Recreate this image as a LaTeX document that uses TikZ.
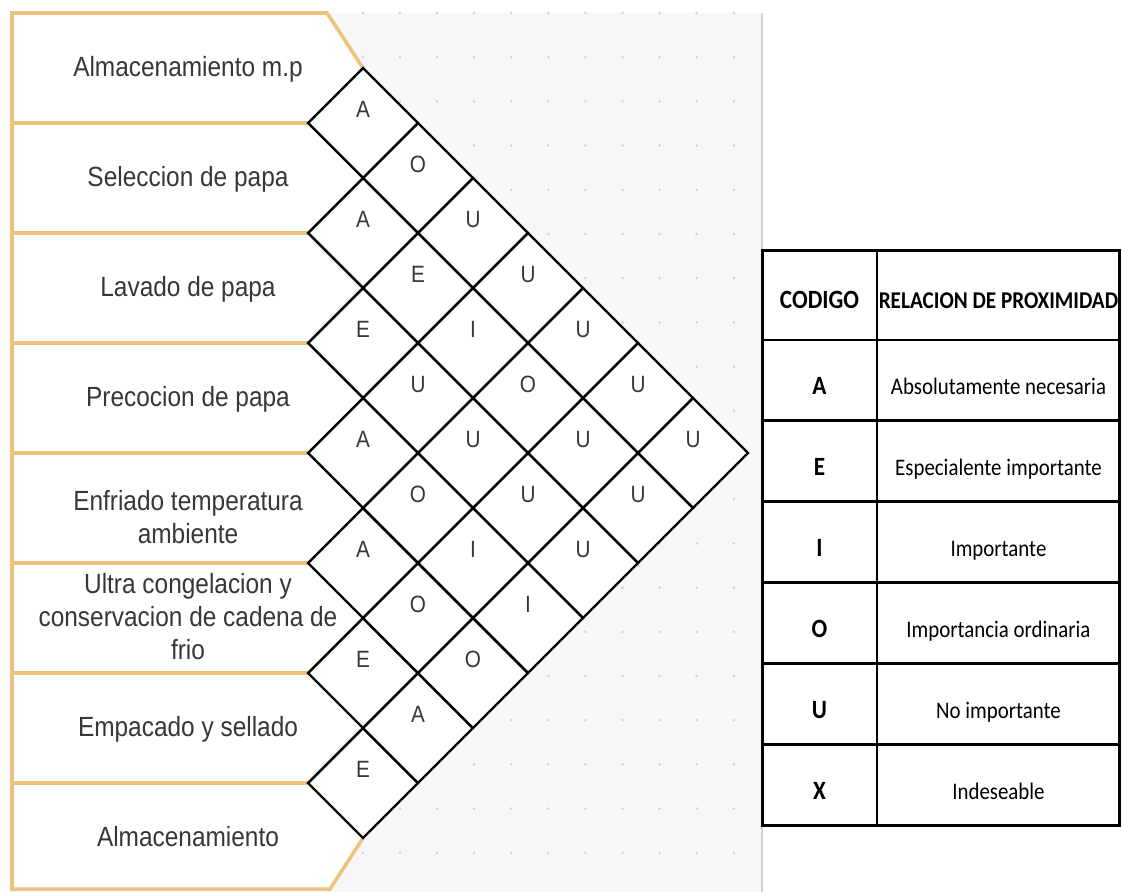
\documentclass[tikz,border=0pt]{standalone}
\usepackage{fontspec}
\setmainfont[FakeStretch=0.88]{Liberation Sans}
\newfontfamily\tablefont[FakeStretch=0.88]{Carlito}
\usepackage{xcolor}
\usetikzlibrary{shapes.geometric, positioning, backgrounds}

\definecolor{panelline}{RGB}{236,194,124}
\definecolor{canvas}{RGB}{247,247,249}
\definecolor{dotgray}{RGB}{212,212,218}
\definecolor{labelgray}{RGB}{55,55,55}

\begin{document}
\begin{tikzpicture}[x=0.02cm, y=-0.02cm]
    \tikzset{
        stage/.style={align=center, text=labelgray, inner sep=0pt, font=\fontsize{15.8}{18.8}\selectfont},
        cell/.style={diamond, draw=black, fill=white, line width=1.4pt, minimum width=2.2cm, minimum height=2.2cm, inner sep=0pt, outer sep=0pt, text=labelgray, font=\fontsize{13.4}{15}\selectfont, text height=9.6pt, text depth=15.8pt},
        panel/.style={draw=panelline, line width=2pt},
        tablecell/.style={rectangle, draw=black, line width=1.7pt, inner sep=0pt, outer sep=0pt, text height=15.5pt, text depth=0pt},
        head/.style={tablecell, minimum height=1.8cm, font=\tablefont\bfseries\fontsize{13.7}{15}\selectfont},
        codecell/.style={tablecell, minimum width=2.3cm, minimum height=1.62cm, font=\tablefont\bfseries\fontsize{15}{17}\selectfont},
        desccell/.style={tablecell, minimum width=4.86cm, minimum height=1.62cm, font=\tablefont\fontsize{13.5}{15}\selectfont}
    }
    \useasboundingbox (0,0) rectangle (1122,892);

    \node (AlmacenMP) [stage] at (188,69) {Almacenamiento m.p};
    \node (Seleccion) [stage] at (188,179) {Seleccion de papa};
    \node (Lavado) [stage] at (188,289) {Lavado de papa};
    \node (Precocion) [stage] at (188,399) {Precocion de papa};
    \node (Enfriado) [stage] at (188,517) {Enfriado temperatura\\ambiente};
    \node (Congelacion) [stage] at (188,617) {Ultra congelacion y\\conservacion de cadena de\\frio};
    \node (Empacado) [stage] at (188,729) {Empacado y sellado};
    \node (Almacen) [stage] at (188,837) {Almacenamiento};

    \node (C01) [cell] at (363,123) {A};
    \node (C12) [cell] at (363,233) {A};
    \node (C23) [cell] at (363,343) {E};
    \node (C34) [cell] at (363,453) {A};
    \node (C45) [cell] at (363,563) {A};
    \node (C56) [cell] at (363,673) {E};
    \node (C67) [cell] at (363,783) {E};

    \node (C02) [cell] at (418,178) {O};
    \node (C13) [cell] at (418,288) {E};
    \node (C24) [cell] at (418,398) {U};
    \node (C35) [cell] at (418,508) {O};
    \node (C46) [cell] at (418,618) {O};
    \node (C57) [cell] at (418,728) {A};

    \node (C03) [cell] at (473,233) {U};
    \node (C14) [cell] at (473,343) {I};
    \node (C25) [cell] at (473,453) {U};
    \node (C36) [cell] at (473,563) {I};
    \node (C47) [cell] at (473,673) {O};

    \node (C04) [cell] at (528,288) {U};
    \node (C15) [cell] at (528,398) {O};
    \node (C26) [cell] at (528,508) {U};
    \node (C37) [cell] at (528,618) {I};

    \node (C05) [cell] at (583,343) {U};
    \node (C16) [cell] at (583,453) {U};
    \node (C27) [cell] at (583,563) {U};

    \node (C06) [cell] at (638,398) {U};
    \node (C17) [cell] at (638,508) {U};

    \node (C07) [cell] at (693,453) {U};

    \begin{scope}[on background layer]
        \fill[canvas] (12,13) rectangle (762,892);
        \foreach \dx in {0,...,19}
            \foreach \dy in {0,...,19}
                \fill[dotgray] (28.9+37.1*\dx, 13+44.2*\dy) circle (1.5);
        \draw[gray!35, line width=0.6pt] (762,13) -- (762,892);
        \fill[white] (12,13) -- (327,13) -- (C01.north) -- (C67.south) -- (330,889) -- (12,889) -- cycle;
        \path [panel] (C01.north) -- (327,13) -- (12,13) -- (12,889) -- (330,889) -- (C67.south);
        \path [panel] (12,123) -- (C01.west);
        \path [panel] (12,233) -- (C12.west);
        \path [panel] (12,343) -- (C23.west);
        \path [panel] (12,453) -- (C34.west);
        \path [panel] (12,563) -- (C45.west);
        \path [panel] (12,673) -- (C56.west);
        \path [panel] (12,783) -- (C67.west);
    \end{scope}

    \node (CodHead) [head, minimum width=2.3cm, font=\tablefont\bfseries\fontsize{15}{17}\selectfont] at (819.5,295) {CODIGO};
    \node (RelHead) [head, minimum width=4.86cm, right=0pt of CodHead] {RELACION DE PROXIMIDAD};
    \node (CodA) [codecell, below=0pt of CodHead] {A};
    \node (RelA) [desccell, right=0pt of CodA] {Absolutamente necesaria};
    \node (CodE) [codecell, below=0pt of CodA] {E};
    \node (RelE) [desccell, right=0pt of CodE] {Especialente importante};
    \node (CodI) [codecell, below=0pt of CodE] {I};
    \node (RelI) [desccell, right=0pt of CodI] {Importante};
    \node (CodO) [codecell, below=0pt of CodI] {O};
    \node (RelO) [desccell, right=0pt of CodO] {Importancia ordinaria};
    \node (CodU) [codecell, below=0pt of CodO] {U};
    \node (RelU) [desccell, right=0pt of CodU] {No importante};
    \node (CodX) [codecell, below=0pt of CodU] {X};
    \node (RelX) [desccell, right=0pt of CodX] {Indeseable};

\end{tikzpicture}
\end{document}
